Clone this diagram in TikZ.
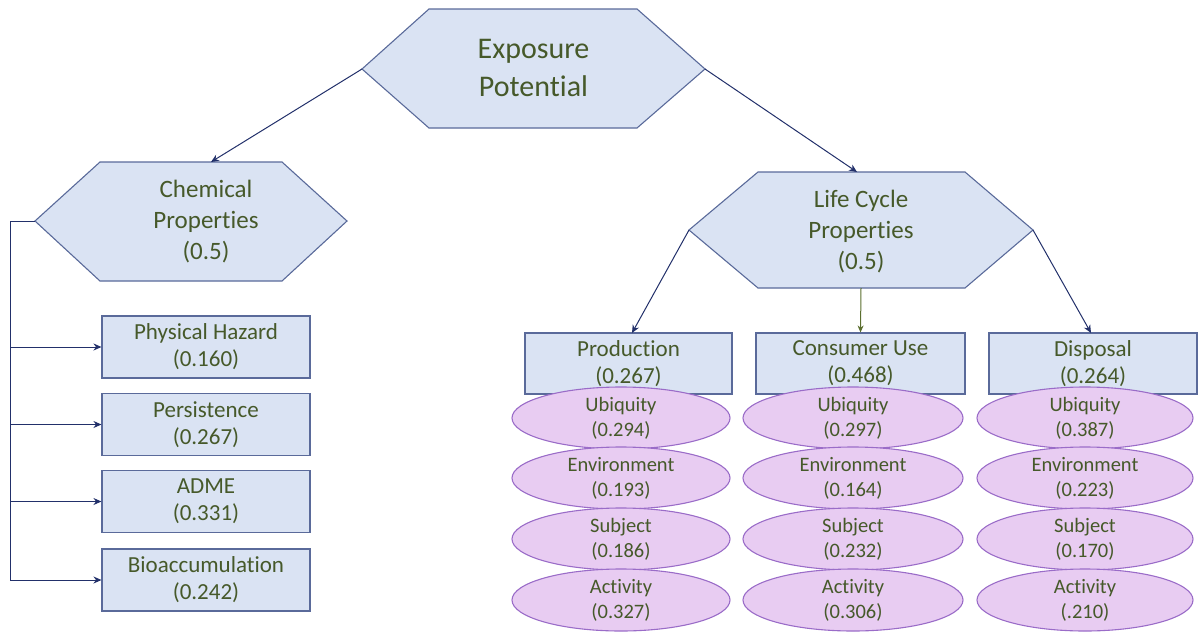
\documentclass[tikz,border=0pt]{standalone}
\usepackage{fontspec}
\setmainfont{Carlito}[Ligatures=NoCommon]
\usetikzlibrary{arrows.meta,shapes.geometric}
\definecolor{hexfill}{HTML}{DAE3F3}
\definecolor{hexline}{HTML}{5A6A9A}
\definecolor{txtc}{HTML}{46592A}
\definecolor{ellfill}{HTML}{E8CCF2}
\definecolor{ellline}{HTML}{9A6CC8}
\definecolor{arrc}{HTML}{22306A}
\definecolor{oliv}{HTML}{5A6E2E}
\begin{document}
\begin{tikzpicture}[x=1pt,y=-1pt,
 hexs/.style={draw=hexline,fill=hexfill,line width=1.1pt,line join=miter},
 hextxt/.style={text=txtc,align=center,inner sep=0pt},
 boxs/.style={draw=hexline,fill=hexfill,line width=1.1pt,minimum width=208pt,minimum height=62pt,inner sep=0pt,text=txtc,align=center,font=\fontsize{23}{27}\selectfont},
 ells/.style={ellipse,draw=ellline,fill=ellfill,line width=1.1pt,minimum width=218pt,minimum height=62pt,inner sep=0pt},
 etxt/.style={text=txtc,align=center,inner sep=0pt,font=\fontsize{20.5}{25}\selectfont},
 arr/.style={draw=arrc,line width=1pt,-{Stealth[length=8pt,width=7pt]}},
 plain/.style={draw=arrc,line width=1pt},
]
\useasboundingbox (0,0) rectangle (1202,633);

% Exposure Potential hexagon
\draw[hexs] (362,69) -- (429,9) -- (637,9) -- (705,69) -- (637,128) -- (429,128) -- cycle;
\coordinate (epL) at (362,69);
\coordinate (epR) at (705,69);
\node[hextxt,font=\fontsize{30}{38}\selectfont] (ep) at (533.5,68) {Exposure\\Potential};

% Chemical Properties hexagon
\draw[hexs] (35,221) -- (100,162) -- (282,162) -- (347,221) -- (282,281) -- (100,281) -- cycle;
\coordinate (chL) at (35,221);
\coordinate (chT) at (211,162);
\node[hextxt,font=\fontsize{25}{31}\selectfont] (ch) at (206,222) {Chemical\\Properties\\(0.5)};

% Life Cycle Properties hexagon
\draw[hexs] (689,230) -- (758,172) -- (965,172) -- (1033,230) -- (965,288) -- (758,288) -- cycle;
\coordinate (lcL) at (689,230);
\coordinate (lcR) at (1033,230);
\coordinate (lcT) at (857,172);
\coordinate (lcB) at (861,288);
\node[hextxt,font=\fontsize{25}{31}\selectfont] (lc) at (861,232) {Life Cycle\\Properties\\(0.5)};

% top connectors
\draw[arr] (epL) -- (chT);
\draw[arr] (epR) -- (lcT);

% left boxes
\node[boxs] (b1) at (206,347) {Physical Hazard\\(0.160)};
\node[boxs] (b2) at (206,424.5) {Persistence\\(0.267)};
\node[boxs] (b3) at (206,501.5) {ADME\\(0.331)};
\node[boxs] (b4) at (206,580) {Bioaccumulation\\(0.242)};
\coordinate (vt) at (10,221);
\coordinate (v1) at (10,347);
\coordinate (v2) at (10,424.5);
\coordinate (v3) at (10,501.5);
\coordinate (v4) at (10,580);
\draw[plain] (chL) -- (vt) -- (v4);
\draw[arr] (v1) -- (b1.west);
\draw[arr] (v2) -- (b2.west);
\draw[arr] (v3) -- (b3.west);
\draw[arr] (v4) -- (b4.west);

% middle boxes
\node[boxs,minimum width=207pt,minimum height=61pt] (pr) at (628.5,363.5) {Production\\(0.267)};
\node[boxs,minimum width=209pt,minimum height=61pt] (cu) at (860.5,363.5) {Consumer Use\\(0.468)};
\node[boxs,minimum width=208pt,minimum height=61pt] (di) at (1093,363.5) {Disposal\\(0.264)};
\coordinate (prT) at (632,333);
\coordinate (diT) at (1091,333);
\draw[arr] (lcL) -- (prT);
\draw[arr] (lcR) -- (diT);
\draw[draw=oliv,line width=1pt,-{Stealth[length=7pt,width=6pt]}] (lcB) -- (cu.north);

% ellipses - Production
\node[ells] (pu) at (621,418) {};
\node[etxt] at (pu) {Ubiquity\\(0.294)};
\node[ells] (pe) at (621,478) {};
\node[etxt] at (pe) {Environment\\(0.193)};
\node[ells] (ps) at (621,539) {};
\node[etxt] at (ps) {Subject\\(0.186)};
\node[ells] (pa) at (621,600) {};
\node[etxt] at (pa) {Activity\\(0.327)};

% ellipses - Consumer Use
\node[ells,minimum width=220pt] (cu1) at (853,418) {};
\node[etxt] at (cu1) {Ubiquity\\(0.297)};
\node[ells,minimum width=220pt] (ce) at (853,478) {};
\node[etxt] at (ce) {Environment\\(0.164)};
\node[ells,minimum width=220pt] (cs) at (853,539) {};
\node[etxt] at (cs) {Subject\\(0.232)};
\node[ells,minimum width=220pt] (ca) at (853,600) {};
\node[etxt] at (ca) {Activity\\(0.306)};

% ellipses - Disposal
\node[ells,minimum width=216pt] (du) at (1085,418) {};
\node[etxt] at (du) {Ubiquity\\(0.387)};
\node[ells,minimum width=216pt] (de) at (1085,478) {};
\node[etxt] at (de) {Environment\\(0.223)};
\node[ells,minimum width=216pt] (ds) at (1085,539) {};
\node[etxt] at (ds) {Subject\\(0.170)};
\node[ells,minimum width=216pt] (da) at (1085,600) {};
\node[etxt] at (da) {Activity\\(.210)};
\end{tikzpicture}
\end{document}
